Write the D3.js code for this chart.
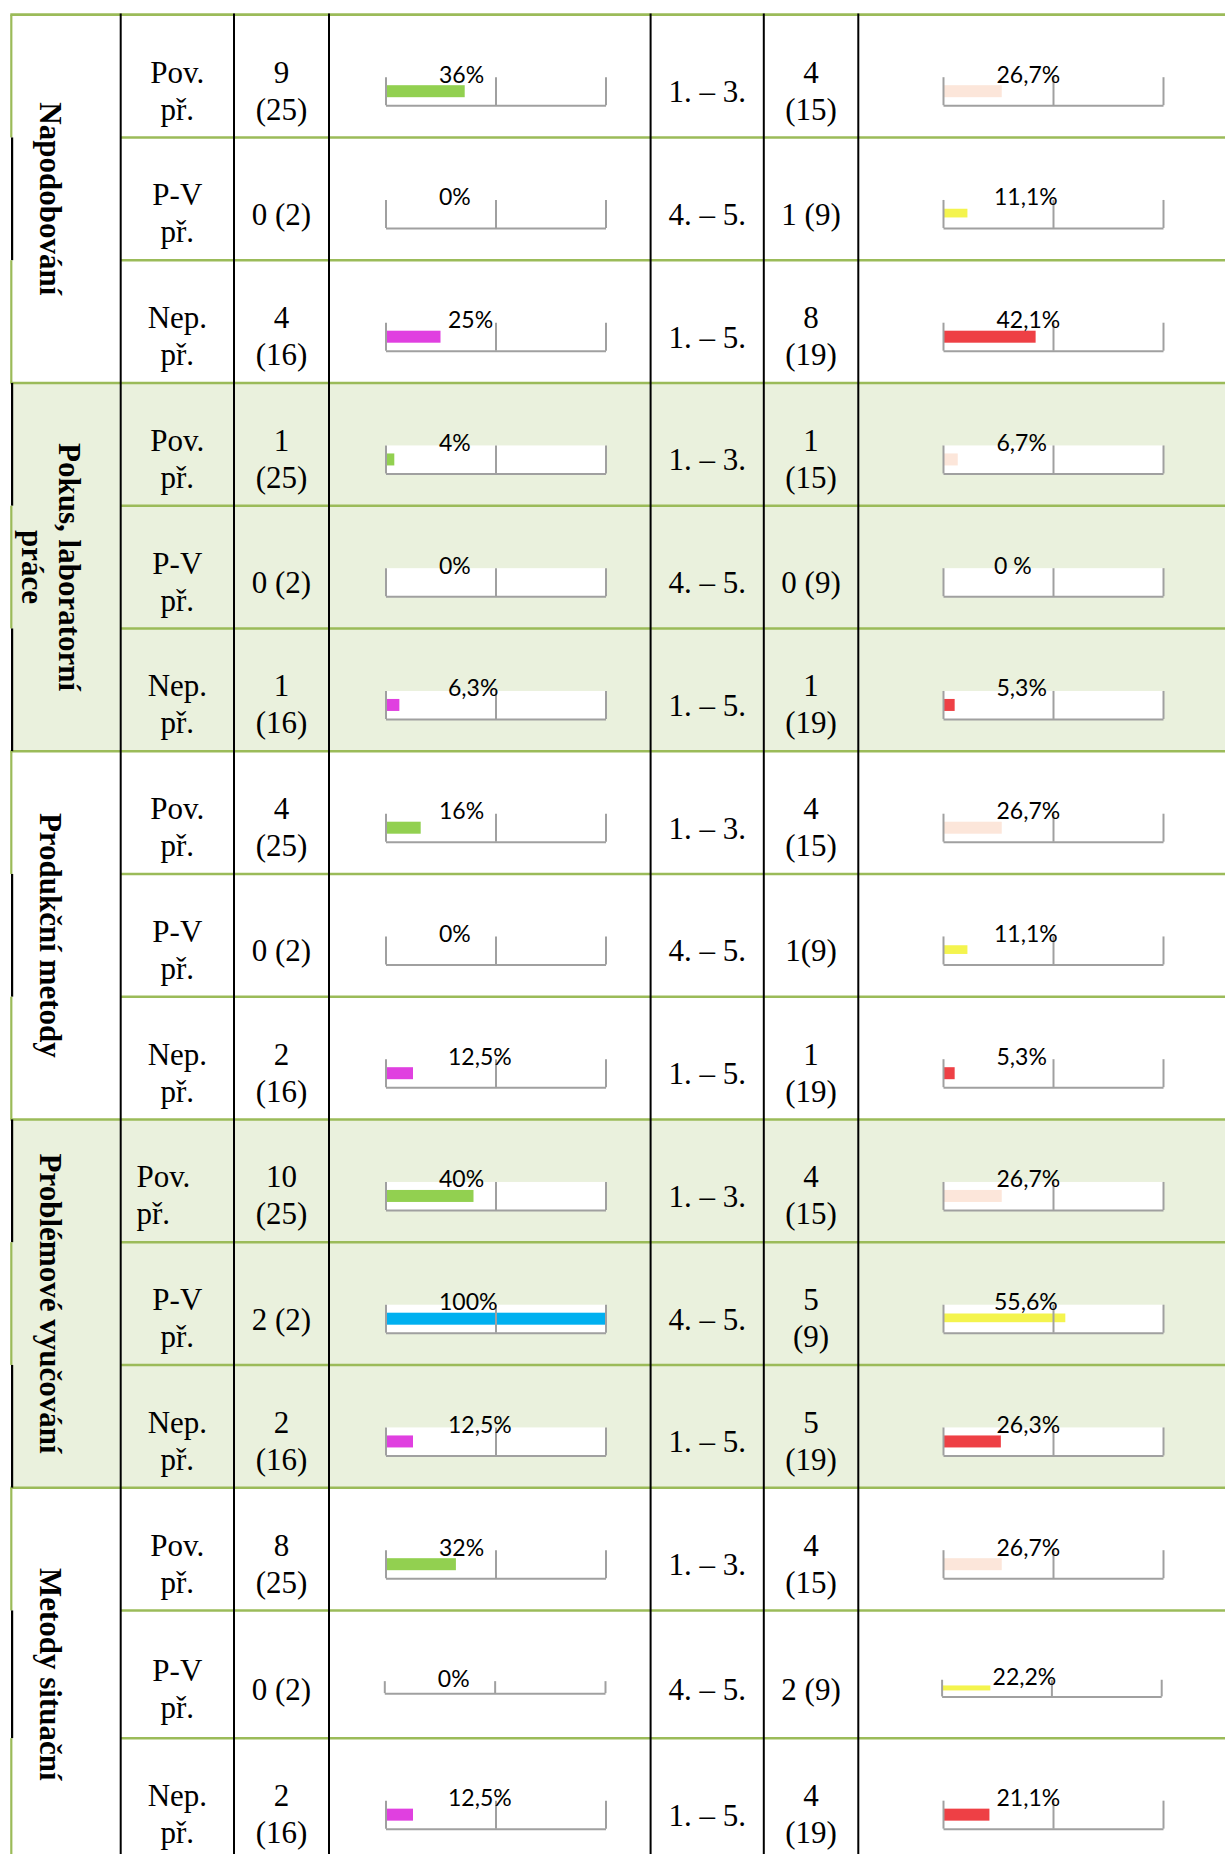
<!DOCTYPE html>
<html>
<head>
<meta charset="utf-8">
<script src="https://d3js.org/d3.v7.min.js"></script>
<style>
  body { margin: 0; background: #fff; }
  .cell { font-family: "Liberation Serif", "Times New Roman", serif; font-size: 31px; fill: #000; }
  .grp { font-weight: bold; }
  .pct { font-family: Lato, "Noto Sans", sans-serif; font-size: 23px; fill: #000; }
  .axis path, .axis line { stroke: #a0a0a0; stroke-width: 2; }
</style>
</head>
<body>
<svg id="chart" width="1225" height="1854"></svg>
<script>
var groups = ["Napodobování", "Pokus, laboratorní\npráce", "Produkční metody", "Problémové vyučování", "Metody situační"];
var kinds = ["Pov.\npř.", "P-V\npř.", "Nep.\npř."];
var grades = ["1. – 3.", "4. – 5.", "1. – 5."];

var leftCounts = ["9\n(25)", "0 (2)", "4\n(16)", "1\n(25)", "0 (2)", "1\n(16)", "4\n(25)", "0 (2)", "2\n(16)",
                  "10\n(25)", "2 (2)", "2\n(16)", "8\n(25)", "0 (2)", "2\n(16)"];
var leftPct = [36, 0, 25, 4, 0, 6.3, 16, 0, 12.5, 40, 100, 12.5, 32, 0, 12.5];
var leftLabels = ["36%", "0%", "25%", "4%", "0%", "6,3%", "16%", "0%", "12,5%", "40%", "100%", "12,5%", "32%", "0%", "12,5%"];

var rightCounts = ["4\n(15)", "1 (9)", "8\n(19)", "1\n(15)", "0 (9)", "1\n(19)", "4\n(15)", "1(9)", "1\n(19)",
                   "4\n(15)", "5\n(9)", "5\n(19)", "4\n(15)", "2 (9)", "4\n(19)"];
var rightPct = [26.7, 11.1, 42.1, 6.7, 0, 5.3, 26.7, 11.1, 5.3, 26.7, 55.6, 26.3, 26.7, 22.2, 21.1];
var rightLabels = ["26,7%", "11,1%", "42,1%", "6,7%", "0 %", "5,3%", "26,7%", "11,1%", "5,3%",
                   "26,7%", "55,6%", "26,3%", "26,7%", "22,2%", "21,1%"];

var leftColors = ["#92d050", "#00b0f0", "#e040e0"];
var rightColors = ["#fce6da", "#f4f44e", "#ee4045"];

// --- layout ---
var W = 1225, H = 1854;
var colX = [11.3, 120.7, 234, 329, 650.6, 763.8, 858.3, W];
var green = "#9bbb59", band = "#eaf1dd";

var rowH = leftPct.map(function(d, i) { return i === 13 ? 127.7 : 122.75; });
var rowTop = [];
var acc = 14.7;
rowH.forEach(function(h) { rowTop.push(acc); acc += h; });

var svg = d3.select("#chart");

// shaded bands for groups 2 and 4
svg.selectAll("rect.band")
  .data(groups.map(function(g, i) { return i; }).filter(function(i) { return i % 2 === 1; }))
  .enter().append("rect")
  .attr("class", "band")
  .attr("x", colX[0]).attr("width", W - colX[0])
  .attr("y", function(g) { return rowTop[g * 3]; })
  .attr("height", function(g) { return rowTop[g * 3 + 2] + rowH[g * 3 + 2] - rowTop[g * 3]; })
  .attr("fill", band);

// small bar charts
function chart(i, side) {
  var k = i % 3;
  var f = side === "L"
    ? { x0: 385.5, x1: 605.5, top: 62.5, base: 90.5, barTop: 70.5, barH: 12, labelY: 68, labelDx: k === 2 ? 62.5 : 53.5 }
    : { x0: 943, x1: 1163, top: 62.5, base: 90.5, barTop: k === 1 ? 71.3 : 70.5, barH: k === 1 ? 8.7 : 12, labelY: 68, labelDx: k === 1 ? 51 : 53.5 };
  if (i === 13) {
    if (side === "L") Object.assign(f, { x0: 384.3, x1: 605, top: 70.7, base: 82.7, labelY: 77 });
    else Object.assign(f, { x0: 941.6, x1: 1161.2, top: 69.3, base: 86, barTop: 75, barH: 5, labelY: 75 });
  }
  var v = side === "L" ? leftPct[i] : rightPct[i];
  var lab = side === "L" ? leftLabels[i] : rightLabels[i];
  var col = side === "L" ? leftColors[k] : rightColors[k];
  var y0 = rowTop[i];
  var x = d3.scaleLinear().domain([0, 100]).range([f.x0, f.x1]);
  var g = svg.append("g");

  g.append("rect")
    .attr("x", x(0)).attr("width", x(100) - x(0))
    .attr("y", y0 + f.top).attr("height", f.base - f.top)
    .attr("fill", "#fff");

  g.append("rect")
    .attr("x", x(0) + 1).attr("width", Math.max(0, x(v) - x(0) - 1))
    .attr("y", y0 + f.barTop).attr("height", f.barH)
    .attr("fill", col);

  g.append("g")
    .attr("class", "axis")
    .attr("transform", "translate(0," + (y0 + f.base) + ")")
    .call(d3.axisBottom(x).tickValues([0, 50, 100]).tickSize(-(f.base - f.top)).tickSizeOuter(0).tickFormat(""));

  g.append("text")
    .attr("class", "pct")
    .attr("x", x(0) + f.labelDx)
    .attr("y", y0 + f.labelY)
    .text(lab);
}

leftPct.forEach(function(d, i) { chart(i, "L"); chart(i, "R"); });

// row separators (green)
svg.append("line")
  .attr("x1", colX[0] - 1).attr("x2", W).attr("y1", 14.7).attr("y2", 14.7)
  .attr("stroke", green).attr("stroke-width", 2.8);

svg.selectAll("line.sep")
  .data(d3.range(1, rowTop.length))
  .enter().append("line")
  .attr("class", "sep")
  .attr("x1", function(i) { return i % 3 === 0 ? colX[0] - 1 : colX[1]; })
  .attr("x2", W)
  .attr("y1", function(i) { return rowTop[i]; })
  .attr("y2", function(i) { return rowTop[i]; })
  .attr("stroke", green).attr("stroke-width", 2.5);

// left border alternates green / black
svg.selectAll("line.lb")
  .data(rowTop)
  .enter().append("line")
  .attr("class", "lb")
  .attr("x1", function(d, i) { return i % 2 === 0 ? colX[0] : colX[0] + 0.8; })
  .attr("x2", function(d, i) { return i % 2 === 0 ? colX[0] : colX[0] + 0.8; })
  .attr("y1", function(d) { return d; })
  .attr("y2", function(d, i) { return d + rowH[i]; })
  .attr("stroke", function(d, i) { return i % 2 === 0 ? green : "#000"; })
  .attr("stroke-width", 2.2);

// column rules (black)
svg.selectAll("line.col")
  .data(colX.slice(1, 7))
  .enter().append("line")
  .attr("class", "col")
  .attr("x1", function(d) { return d; }).attr("x2", function(d) { return d; })
  .attr("y1", 13.5).attr("y2", H)
  .attr("stroke", "#000").attr("stroke-width", 2);

// text cells
function cellText(str, x, i, anchor) {
  var lines = str.split("\n");
  var h = rowH[i];
  var t = svg.append("text")
    .attr("class", "cell")
    .attr("text-anchor", anchor || "middle");
  if (lines.length === 1) {
    t.attr("x", x).attr("y", rowTop[i] + h / 2 + 26).text(str);
  } else {
    lines.forEach(function(s, j) {
      t.append("tspan").attr("x", x).attr("y", rowTop[i] + h / 2 + 6.5 + j * 37).text(s);
    });
  }
}

leftPct.forEach(function(d, i) {
  var k = i % 3;
  if (i === 9) cellText(kinds[k], 136.4, i, "start");
  else cellText(kinds[k], (colX[1] + colX[2]) / 2, i);
  cellText(leftCounts[i], (colX[2] + colX[3]) / 2, i);
  cellText(grades[k], (colX[4] + colX[5]) / 2, i);
  cellText(rightCounts[i], (colX[5] + colX[6]) / 2, i);
});

// vertical group labels
groups.forEach(function(name, gi) {
  var a = rowTop[gi * 3];
  var b = rowTop[gi * 3 + 2] + rowH[gi * 3 + 2];
  var lines = name.split("\n");
  var n = lines.length;
  lines.forEach(function(s, j) {
    var bx = 40 + (n - 1) / 2 * 37 - j * 37;
    svg.append("text")
      .attr("class", "cell grp")
      .attr("text-anchor", "middle")
      .attr("transform", "translate(" + bx + "," + ((a + b) / 2) + ") rotate(90)")
      .text(s);
  });
});
</script>
</body>
</html>
